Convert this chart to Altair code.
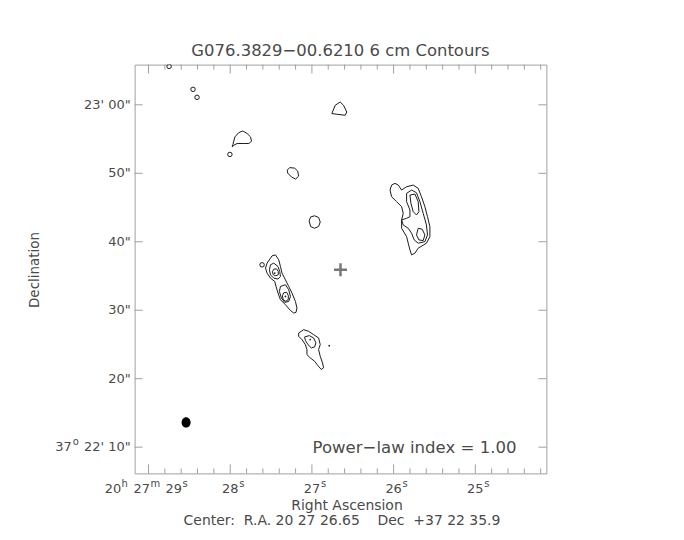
import altair as alt
import pandas as pd

W, H = 413, 410
RA_DOMAIN = [24.13, 29.17]     # seconds of RA (20h 27m ...)
DEC_DOMAIN = [6.17, 65.87]     # arcsec of Dec (+37d 22' ...)
FRAME = "#a0a0a0"
TXT = "#4a4a4a"
FONT = "DejaVu Sans"

TITLE = "G076.3829\u221200.6210 6 cm Contours"
NOTE = "Power\u2212law index = 1.00"
CENTER_TXT = "Center:\u00a0\u00a0R.A. 20 27 26.65\u00a0\u00a0\u00a0\u00a0Dec\u00a0\u00a0+37 22 35.9"
CENTER_RA, CENTER_DEC = 26.65, 35.9

# ---- contour polygons (RA seconds, Dec arcsec) ----
fin_ra = [26.756, 26.715, 26.654, 26.613, 26.573, 26.593, 26.695]
fin_dec = [58.72, 59.93, 60.41, 59.93, 58.95, 58.47, 58.62]

drop_ra = [27.967, 27.943, 27.894, 27.845, 27.793, 27.751, 27.739, 27.772, 27.833, 27.915, 27.955, 27.976]
drop_dec = [54.20, 55.31, 55.95, 56.18, 55.81, 55.31, 54.68, 54.35, 54.35, 54.35, 54.10, 53.85]

knot_ra = [27.302, 27.272, 27.211, 27.174, 27.162, 27.199, 27.248, 27.296]
knot_dec = [50.46, 50.83, 50.75, 50.32, 49.59, 49.15, 49.44, 50.03]

blob_ra = [27.034, 27.016, 26.967, 26.918, 26.898, 26.918, 26.967, 27.016]
blob_dec = [43.04, 43.62, 43.79, 43.55, 42.89, 42.23, 41.97, 42.23]

mid1_ra = [27.446, 27.406, 27.385, 27.366, 27.324, 27.284, 27.244, 27.202, 27.183, 27.195, 27.223, 27.263,
           27.324, 27.385, 27.415, 27.439, 27.455, 27.507, 27.549, 27.568, 27.549, 27.507, 27.488]
mid1_dec = [38.08, 37.36, 36.38, 35.42, 34.44, 33.47, 32.51, 31.28, 30.32, 29.68, 29.59, 29.97,
            30.80, 31.53, 32.51, 33.47, 34.20, 34.69, 35.42, 36.15, 36.88, 37.60, 37.94]
mid2a_ra = [27.507, 27.467, 27.415, 27.394, 27.385, 27.415, 27.467, 27.507, 27.520]
mid2a_dec = [36.63, 36.88, 36.38, 35.65, 34.92, 34.55, 34.69, 35.17, 35.90]
mid2b_ra = [27.385, 27.324, 27.284, 27.263, 27.284, 27.333, 27.373, 27.398]
mid2b_dec = [33.47, 33.72, 32.99, 32.01, 31.28, 31.14, 31.78, 32.74]
mid3a_ra = [27.483, 27.467, 27.434, 27.412, 27.412, 27.443, 27.473]
mid3a_dec = [35.61, 36.00, 36.05, 35.68, 35.17, 35.03, 35.17]
mid3b_ra = [27.361, 27.345, 27.309, 27.288, 27.290, 27.321, 27.351]
mid3b_dec = [32.11, 32.55, 32.62, 32.11, 31.53, 31.31, 31.53]

south1_ra = [27.162, 27.101, 27.040, 26.979, 26.918, 26.898, 26.918, 26.898, 26.870, 26.857, 26.885, 26.927,
             26.967, 27.020, 27.061, 27.061, 27.080, 27.122, 27.162]
south1_dec = [26.68, 27.16, 26.92, 26.43, 25.95, 24.98, 24.25, 23.27, 22.31, 21.59, 21.34, 21.92,
              22.55, 23.04, 23.52, 24.25, 24.98, 25.71, 26.19]
south2_ra = [27.089, 27.032, 26.979, 26.951, 26.967, 27.007, 27.049, 27.080]
south2_dec = [26.10, 26.29, 25.95, 25.23, 24.64, 24.50, 24.98, 25.60]

east1_ra = [26.024, 25.983, 25.943, 25.902, 25.841, 25.760, 25.699, 25.659, 25.617, 25.585, 25.556, 25.556, 25.598,
            25.699, 25.739, 25.780, 25.800, 25.821, 25.841, 25.902, 25.902, 25.882, 25.902, 25.963, 26.024, 26.044]
east1_dec = [48.28, 48.53, 48.28, 47.55, 48.03, 48.28, 47.80, 46.57, 45.12, 43.66, 42.21, 40.75, 39.79,
             39.06, 38.33, 38.08, 38.81, 39.79, 40.75, 41.97, 43.18, 44.16, 45.12, 45.85, 46.57, 47.55]
east2_ra = [25.841, 25.780, 25.720, 25.678, 25.638, 25.598, 25.585, 25.617, 25.699, 25.748, 25.780, 25.821,
            25.882, 25.902, 25.841, 25.800, 25.800, 25.841]
east2_dec = [47.07, 47.55, 47.16, 45.85, 44.16, 42.45, 41.00, 40.02, 39.79, 40.27, 41.24, 41.97,
             42.45, 43.18, 43.43, 43.66, 44.64, 45.85]
east3a_ra = [25.800, 25.739, 25.699, 25.690, 25.720, 25.760, 25.788]
east3a_dec = [46.82, 46.97, 45.85, 44.39, 43.91, 44.39, 45.61]
east3b_ra = [25.699, 25.650, 25.617, 25.638, 25.690, 25.720]
east3b_dec = [41.97, 41.83, 41.00, 40.17, 40.27, 41.00]

# tiny closed loops (too small to trace) and peak dots
loop_ra = [28.748, 28.455, 28.406, 28.004, 27.610]
loop_dec = [65.61, 62.26, 61.09, 52.75, 36.63]
dot_ra = [27.455, 27.324, 27.020, 26.788]
dot_dec = [35.42, 32.01, 25.71, 24.83]

beam_ra, beam_dec = [28.540], [13.62]

# ---- axis ticks ----
ra_major = [29, 28, 27, 26, 25]
ra_minor = [24.2, 24.4, 24.6, 24.8, 25.2, 25.4, 25.6, 25.8, 26.2, 26.4, 26.6, 26.8,
            27.2, 27.4, 27.6, 27.8, 28.2, 28.4, 28.6, 28.8]
ra_labels = ["28", "27", "26", "25"]
dec_major = [10, 20, 30, 40, 50, 60]
dec_labels = ["20\"", "30\"", "40\"", "50\"", "23' 00\""]

contours = [
    ("fin", fin_ra, fin_dec), ("drop", drop_ra, drop_dec), ("knot", knot_ra, knot_dec),
    ("blob", blob_ra, blob_dec), ("mid1", mid1_ra, mid1_dec), ("mid2a", mid2a_ra, mid2a_dec),
    ("mid2b", mid2b_ra, mid2b_dec), ("mid3a", mid3a_ra, mid3a_dec), ("mid3b", mid3b_ra, mid3b_dec),
    ("south1", south1_ra, south1_dec), ("south2", south2_ra, south2_dec),
    ("east1", east1_ra, east1_dec), ("east2", east2_ra, east2_dec),
    ("east3a", east3a_ra, east3a_dec), ("east3b", east3b_ra, east3b_dec),
]
rows = []
for cid, ras, decs in contours:
    for i, (r, d) in enumerate(zip(ras, decs)):
        rows.append({"cid": cid, "i": i, "ra": r, "dec": d})
cdf = pd.DataFrame(rows)

xs = alt.Scale(domain=RA_DOMAIN, reverse=True, nice=False, zero=False)
ys = alt.Scale(domain=DEC_DOMAIN, nice=False, zero=False)
X = alt.X("ra:Q", scale=xs, axis=None)
Y = alt.Y("dec:Q", scale=ys, axis=None)

lines = alt.Chart(cdf).mark_line(stroke="#1a1a1a", strokeWidth=1, interpolate="linear-closed", clip=True).encode(
    x=X, y=Y, detail="cid:N", order="i:Q")

loops = alt.Chart(pd.DataFrame({"ra": loop_ra, "dec": loop_dec})).mark_point(
    shape="circle", filled=False, size=20, stroke="#1a1a1a", strokeWidth=1, opacity=1, clip=True).encode(x=X, y=Y)
dots = alt.Chart(pd.DataFrame({"ra": dot_ra, "dec": dot_dec})).mark_point(
    shape="circle", filled=True, size=3, color="#1a1a1a", opacity=1).encode(x=X, y=Y)
beam = alt.Chart(pd.DataFrame({"ra": beam_ra, "dec": beam_dec})).mark_point(
    shape="M-0.86,0A0.86,1,0,1,1,0.86,0A0.86,1,0,1,1,-0.86,0Z", filled=True, size=110,
    color="black", opacity=1).encode(x=X, y=Y)
plus = alt.Chart(pd.DataFrame({"ra": [CENTER_RA], "dec": [CENTER_DEC]})).mark_point(
    shape="M-1,0L1,0M0,-1L0,1", filled=False, size=169, stroke="#777777", strokeWidth=2.5,
    opacity=1).encode(x=X, y=Y)

def xrules(vals, y1, y2):
    return alt.Chart(pd.DataFrame({"ra": vals})).mark_rule(color=FRAME, strokeWidth=1).encode(
        x=X, y=alt.value(y1), y2=alt.value(y2))

def yrules(vals, x1, x2):
    return alt.Chart(pd.DataFrame({"dec": vals})).mark_rule(color=FRAME, strokeWidth=1).encode(
        y=Y, x=alt.value(x1), x2=alt.value(x2))

ticks = [
    xrules(ra_minor, H, H - 5), xrules(ra_major, H, H - 9),
    xrules(ra_minor, 0, 5), xrules(ra_major, 0, 9),
    yrules(dec_major, 0, 8), yrules(dec_major, W, W - 8),
]

def text(**kw):
    base = dict(font=FONT, color=TXT, fontSize=13)
    base.update(kw)
    return base

LBL_Y = H + 16
ra_lab = alt.Chart(pd.DataFrame({"ra": ra_major[1:], "t": ra_labels})).mark_text(
    **text(align="center", baseline="middle")).encode(x=X, y=alt.value(LBL_Y), text="t:N")
ra_sup = alt.Chart(pd.DataFrame({"ra": ra_major[1:]})).mark_text(
    **text(align="left", baseline="middle", fontSize=10, dx=9, dy=-5)).encode(
    x=X, y=alt.value(LBL_Y), text=alt.value("s"))

first_parts = [("20", 13, -44, 0), ("h", 10, -27, -5), ("27", 13, -15, 0),
               ("m", 10, 2, -5), ("29", 13, 17, 0), ("s", 10, 34, -5)]
first = []
for t, fs, dx, dy in first_parts:
    first.append(alt.Chart(pd.DataFrame({"ra": [ra_major[0]]})).mark_text(
        **text(align="left", baseline="middle", fontSize=fs, dx=dx, dy=dy)).encode(
        x=X, y=alt.value(LBL_Y), text=alt.value(t)))

dec_lab = alt.Chart(pd.DataFrame({"dec": dec_major[1:], "t": dec_labels})).mark_text(
    **text(align="right", baseline="middle", dx=-4)).encode(x=alt.value(0), y=Y, text="t:N")
dec_first = [
    alt.Chart(pd.DataFrame({"dec": [dec_major[0]]})).mark_text(
        **text(align="right", baseline="middle", dx=-4)).encode(x=alt.value(0), y=Y, text=alt.value("22' 10\"")),
    alt.Chart(pd.DataFrame({"dec": [dec_major[0]]})).mark_text(
        **text(align="right", baseline="middle", dx=-56, dy=-5, fontSize=10)).encode(x=alt.value(0), y=Y, text=alt.value("o")),
    alt.Chart(pd.DataFrame({"dec": [dec_major[0]]})).mark_text(
        **text(align="right", baseline="middle", dx=-63)).encode(x=alt.value(0), y=Y, text=alt.value("37")),
]

def label(t, x, y, **kw):
    return alt.Chart(pd.DataFrame({"t": [t]})).mark_text(**text(**kw)).encode(
        x=alt.value(x), y=alt.value(y), text="t:N")

annots = [
    label(TITLE, W / 2, -14, fontSize=16.5, align="center", baseline="middle"),
    label(NOTE, 383, 385, fontSize=16.6, align="right", baseline="middle"),
    label("Declination", -100, 206, fontSize=13.5, align="center", baseline="middle", angle=270),
    label("Right Ascension", 213, 443, fontSize=14, align="center", baseline="middle"),
    label(CENTER_TXT, 208, 458, fontSize=14, align="center", baseline="middle"),
]

chart = alt.layer(lines, loops, dots, beam, plus, *ticks, ra_lab, ra_sup, *first, dec_lab, *dec_first, *annots).properties(
    width=W, height=H,
    autosize=alt.AutoSizeParams(type="none"),
    padding={"left": 127, "top": 56, "right": 130, "bottom": 60},
).configure_view(stroke=FRAME, strokeWidth=1)

chart.save("out.html", embed_options={"renderer": "svg", "actions": False})
